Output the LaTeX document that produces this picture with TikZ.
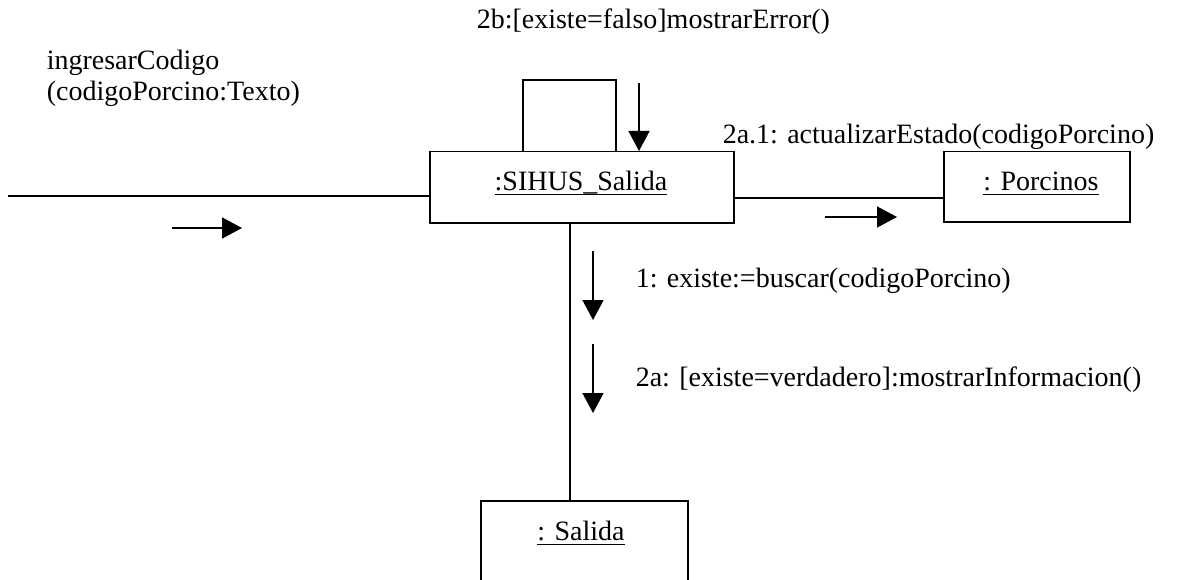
\documentclass[tikz,border=0pt]{standalone}
\usepackage{fontspec}
\setmainfont{Liberation Serif}
\usetikzlibrary{arrows.meta,calc}
\newcommand\ulx[1]{\setbox0\hbox{#1}\rlap{\rule[-5pt]{\wd0}{1.4pt}}\box0}
\begin{document}
\begin{tikzpicture}[x=1pt,y=-1pt,line width=1.5pt,
  objbox/.style={draw,fill=white,inner sep=0pt,anchor=north west},
  lbl/.style={inner sep=0pt,anchor=base west,font=\fontsize{28}{32}\selectfont},
  msg/.style={-{Triangle[length=20pt,width=21pt]},line width=1.5pt}]
\useasboundingbox (0,0) rectangle (1177,580);
\clip (0,0) rectangle (1177,580);
% message labels
\node[lbl] (t2b) at (476,29) {2b:[existe=falso]mostrarError()};
\node[lbl] (tin1) at (46,70) {ingresarCodigo};
\node[lbl] (tin2) at (46,101) {(codigoPorcino:Texto)};
\node[lbl] (t21) at (722,144) {2a.1: actualizarEstado(codigoPorcino)};
\node[lbl] (t1) at (635,287) {1: existe:=buscar(codigoPorcino)};
\node[lbl] (t2a) at (635,386) {2a: [existe=verdadero]:mostrarInformacion()};
% objects
\node[objbox,minimum width=304pt,minimum height=71pt] (sihus) at (429,151) {};
\node[objbox,minimum width=186pt,minimum height=70pt] (porc) at (943,151) {};
\node[objbox,minimum width=207pt,minimum height=120pt] (salida) at (480,500) {};
\node[lbl,anchor=base] (sihusT) at (581,190) {\ulx{:SIHUS\_Salida}};
\node[lbl,anchor=base] (porcT) at (1041,190) {\ulx{: Porcinos}};
\node[lbl,anchor=base] (salT) at (581,540) {\ulx{: Salida}};
% links
\coordinate (inL) at (8,196);
\draw (inL) -- (inL -| sihus.west);
\coordinate (c1) at (0,198);
\draw (c1 -| sihus.east) -- (c1 -| porc.west);
\coordinate (v) at (570,0);
\draw (v |- sihus.south) -- (v |- salida.north);
\coordinate (lp1) at (523,80);
\coordinate (lp2) at (616,80);
\draw (lp1 |- sihus.north) -- (lp1) -- (lp2) -- (lp2 |- sihus.north);
% message arrows
\coordinate (m2bS) at (639,83);
\draw[msg] (m2bS) -- (m2bS |- sihus.north);
\coordinate (minS) at (172,228);
\coordinate (minE) at (242,228);
\draw[msg] (minS) -- (minE);
\coordinate (m21S) at (825,217);
\coordinate (m21E) at (897,217);
\draw[msg] (m21S) -- (m21E);
\coordinate (m1S) at (593,251);
\coordinate (m1E) at (593,320);
\draw[msg] (m1S) -- (m1E);
\coordinate (m2aS) at (593,344);
\coordinate (m2aE) at (593,413);
\draw[msg] (m2aS) -- (m2aE);
\end{tikzpicture}
\end{document}
